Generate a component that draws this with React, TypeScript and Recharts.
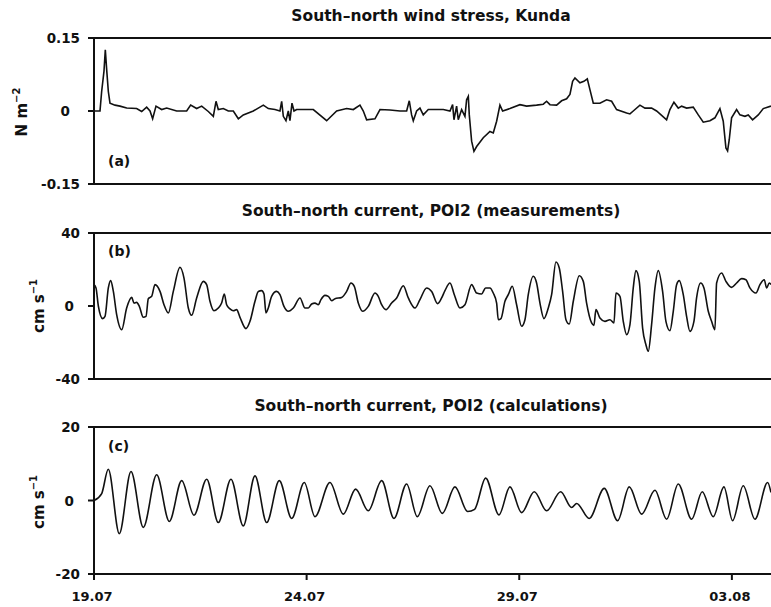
import React from 'react';
import { LineChart, Line, XAxis, YAxis } from 'recharts';

// time axis: days since 19.07 00:00
const dateTicks = [0, 5, 10, 15];
const dateLabels = ['19.07', '24.07', '29.07', '03.08'];
const dayRange = [0, 15.92];

// (a) wind stress, N m-2
const windDays = [
  0, 0.141, 0.18, 0.235, 0.266, 0.298, 0.337, 0.376, 0.494, 0.611, 0.768, 1.003, 1.121, 1.238, 1.317, 1.379,
  1.458, 1.591, 1.709, 1.944, 2.179, 2.273, 2.414, 2.532, 2.688, 2.806, 2.869, 2.923, 3.041, 3.158, 3.276, 3.394,
  3.511, 3.746, 3.982, 4.099, 4.256, 4.373, 4.413, 4.452, 4.514, 4.569, 4.608, 4.656, 4.703, 4.765, 5.157, 5.471,
  5.706, 5.941, 6.098, 6.254, 6.333, 6.411, 6.607, 6.725, 6.96, 7.195, 7.352, 7.414, 7.469, 7.508, 7.587, 7.665,
  7.743, 7.861, 8.214, 8.371, 8.433, 8.465, 8.527, 8.566, 8.645, 8.723, 8.762, 8.802, 8.825, 8.88, 8.935, 8.998,
  9.154, 9.311, 9.389, 9.468, 9.546, 9.609, 9.781, 10.016, 10.173, 10.408, 10.565, 10.643, 10.722, 10.879, 10.996, 11.114,
  11.192, 11.255, 11.31, 11.427, 11.521, 11.6, 11.662, 11.741, 11.897, 12.054, 12.172, 12.289, 12.525, 12.603, 12.681, 12.838,
  12.956, 13.112, 13.23, 13.348, 13.465, 13.543, 13.637, 13.739, 13.818, 13.935, 14.092, 14.21, 14.327, 14.484, 14.601, 14.719,
  14.797, 14.86, 14.899, 14.938, 14.993, 15.111, 15.189, 15.307, 15.385, 15.487, 15.62, 15.738, 15.919,
];
const windStress = [
  0, 0, 0.04, 0.082, 0.126, 0.085, 0.04, 0.016, 0.012, 0.01, 0.006, 0.005, -0.001, 0.008, 0, -0.016,
  0.01, 0.003, 0.006, 0, 0, 0.012, 0.005, 0.01, -0.001, -0.011, 0.02, 0.003, 0.005, 0, 0, -0.016,
  -0.008, 0, 0.012, 0.005, 0.003, 0, 0.02, -0.011, -0.02, 0, -0.02, 0.016, 0, 0.003, 0.003, -0.02,
  0, 0.005, 0.003, 0.012, 0, -0.018, -0.016, 0.003, 0.002, 0, 0, 0.021, -0.008, -0.02, 0, 0.006,
  -0.008, 0.003, 0.003, 0, 0.013, -0.018, 0.01, -0.018, 0.003, -0.011, 0.023, 0.03, -0.008, -0.062, -0.083, -0.073,
  -0.055, -0.042, -0.045, -0.021, 0.012, 0, 0.005, 0.013, 0.01, 0.012, 0.014, 0.02, 0.013, 0.012, 0.021, 0.025,
  0.034, 0.061, 0.068, 0.058, 0.061, 0.066, 0.044, 0.016, 0.016, 0.023, 0.02, 0.003, -0.004, -0.006, 0, 0.012,
  0.006, 0.006, 0, -0.009, -0.018, 0.003, 0.018, 0.006, 0.01, 0.006, 0.008, -0.008, -0.023, -0.02, -0.014, 0.005,
  -0.021, -0.076, -0.082, -0.059, -0.014, 0.003, -0.008, -0.011, -0.008, -0.018, -0.008, 0.005, 0.01,
];

// (b) measured current, cm s-1
const measDays = [
  0, 0.047, 0.102, 0.204, 0.259, 0.337, 0.392, 0.455, 0.533, 0.651, 0.768, 0.886, 0.941, 1.003, 1.066, 1.16,
  1.223, 1.277, 1.356, 1.434, 1.552, 1.646, 1.748, 1.865, 2.022, 2.116, 2.218, 2.296, 2.414, 2.571, 2.649, 2.727,
  2.821, 2.923, 3.001, 3.064, 3.119, 3.198, 3.276, 3.354, 3.433, 3.574, 3.668, 3.786, 3.864, 3.942, 3.997, 4.044,
  4.099, 4.177, 4.295, 4.373, 4.467, 4.569, 4.687, 4.844, 4.961, 5.04, 5.118, 5.196, 5.275, 5.337, 5.431, 5.51,
  5.588, 5.667, 5.823, 5.941, 6.043, 6.121, 6.215, 6.317, 6.45, 6.607, 6.685, 6.764, 6.866, 6.999, 7.117, 7.273,
  7.391, 7.548, 7.665, 7.822, 7.94, 8.081, 8.175, 8.253, 8.371, 8.473, 8.606, 8.723, 8.88, 8.998, 9.115, 9.209,
  9.311, 9.389, 9.468, 9.507, 9.57, 9.664, 9.742, 9.836, 9.938, 10.056, 10.134, 10.212, 10.33, 10.408, 10.487, 10.581,
  10.683, 10.761, 10.863, 10.941, 11.02, 11.098, 11.176, 11.271, 11.412, 11.506, 11.584, 11.702, 11.756, 11.803, 11.897, 12.015,
  12.132, 12.227, 12.274, 12.368, 12.446, 12.525, 12.603, 12.681, 12.744, 12.822, 12.901, 12.979, 13.034, 13.112, 13.191, 13.269,
  13.371, 13.449, 13.543, 13.622, 13.7, 13.763, 13.857, 13.935, 14.014, 14.108, 14.17, 14.264, 14.343, 14.445, 14.523, 14.601,
  14.641, 14.758, 14.86, 14.993, 15.111, 15.229, 15.33, 15.424, 15.566, 15.66, 15.762, 15.817, 15.88, 15.919,
];
const measCurrent = [
  11.7, 9.9, 0, -6.9, -5.7, 9.9, 13.9, 8.0, -4.7, -13.0, -1.1, 4.7, 1.6, 2.0, -0.2, -6.2,
  -5.7, 4.0, 5.3, 11.7, 8.0, 0.7, -3.8, 8.0, 21.2, 15.3, -1.1, -5.1, 4.4, 13.5, 11.7, 2.6,
  -2.6, -1.1, 1.6, 6.6, 0.7, -1.6, -2.6, -2.0, -6.2, -12.4, -8.4, 2.6, 8.0, 8.4, 6.6, -3.8,
  -1.1, 5.3, 8.0, 6.2, -0.2, -2.9, -1.1, 4.4, -1.1, -1.1, 1.1, 1.6, 0.7, 3.5, 5.8, 5.3,
  2.9, 4.0, 4.7, 8.0, 12.6, 10.8, 1.6, -2.9, -0.2, 7.1, 5.3, 0.7, -2.0, 1.6, 4.4, 11.1,
  4.4, -1.1, 3.5, 9.9, 8.0, 1.3, 4.4, 8.4, 12.6, 6.2, -1.1, 0.7, 11.7, 7.1, 6.6, 9.9,
  9.9, 7.1, 1.6, -7.5, -6.9, 2.6, 6.2, 10.8, 0.7, -11.1, -7.5, 6.2, 16.3, 12.6, 1.6, -6.9,
  -1.1, 6.2, 24.1, 20.8, 8.0, -7.5, -9.9, 2.6, 16.6, 13.5, 1.6, -9.3, -10.6, -2.0, -6.6, -8.4,
  -7.5, -9.3, 7.1, 5.3, -8.4, -15.7, -10.2, 9.9, 19.4, 13.5, -12.1, -21.2, -24.8, -10.2, 9.9, 19.4,
  8.0, -8.4, -13.5, -2.9, 11.7, 13.9, 6.2, -5.7, -13.9, -8.4, 4.4, 12.6, 9.9, -2.9, -8.4, -13.0,
  12.6, 18.1, 13.5, 10.2, 12.6, 15.0, 14.4, 9.9, 7.1, 11.7, 14.4, 9.9, 12.6, 11.7,
];

// (c) model current, cm s-1 (turning points)
const calcDays = [
  0, 0.181, 0.336, 0.595, 0.87, 1.159, 1.474, 1.771, 2.062, 2.351, 2.65, 2.923, 3.221, 3.51, 3.786, 4.061,
  4.357, 4.649, 4.945, 5.196, 5.549, 5.862, 6.153, 6.45, 6.765, 7.054, 7.352, 7.602, 7.9, 8.19, 8.488, 8.787,
  8.95, 9.21, 9.523, 9.781, 10.056, 10.353, 10.644, 10.973, 11.232, 11.35, 11.646, 11.999, 12.314, 12.587, 12.878, 13.191,
  13.466, 13.739, 14.054, 14.303, 14.562, 14.813, 15.017, 15.267, 15.542, 15.84, 15.919,
];
const calcCurrent = [
  0, 1.9, 8.5, -9.0, 7.9, -7.3, 7.0, -5.7, 5.4, -4.0, 5.8, -6.0, 5.8, -6.9, 6.7, -6.0,
  5.4, -4.9, 4.9, -4.4, 4.9, -3.7, 3.1, -2.8, 5.4, -4.9, 4.5, -4.4, 4.0, -3.5, 3.7, -3.0,
  -2.4, 6.1, -3.9, 3.7, -3.3, 2.4, -2.8, 2.4, -1.9, -0.8, -4.9, 3.3, -5.5, 3.7, -3.7, 2.8,
  -5.1, 4.5, -5.1, 2.4, -4.4, 3.7, -5.5, 4.0, -5.1, 4.9, 2.2,
];

const toRows = (days: number[], vals: number[]) => days.map((d, i) => ({ day: d, v: vals[i] }));

const FONT = "'DejaVu Sans', Verdana, sans-serif";
const INK = '#111';

function YTick(props: any) {
  const { x, y, payload, zeroShift } = props;
  const v = payload.value;
  return (
    <text
      x={v === 0 ? x - zeroShift : x}
      y={y}
      dy={5}
      textAnchor="end"
      fontFamily={FONT}
      fontWeight="bold"
      fontSize={13.5}
      fill={INK}
    >
      {v === 0 ? '0' : String(v)}
    </text>
  );
}

interface PanelProps {
  top: number;
  rows: { day: number; v: number }[];
  domain: number[];
  ticks: number[];
  zeroShift: number;
  dates?: boolean;
  curve: 'linear' | 'monotone';
}

function Panel({ top, rows, domain, ticks, zeroShift, dates, curve }: PanelProps) {
  const axisLine = { stroke: INK, strokeWidth: 2 };
  return (
    <div style={{ position: 'absolute', left: 0, top }}>
      <LineChart
        width={771}
        height={dates ? 218 : 196}
        data={rows}
        margin={{ top: 36, right: 0, bottom: dates ? 0 : 12, left: 0 }}
      >
        <XAxis
          xAxisId="top"
          orientation="top"
          type="number"
          dataKey="day"
          domain={dayRange}
          ticks={dateTicks}
          interval={0}
          height={1}
          tick={false}
          tickSize={6}
          tickLine={dates ? axisLine : false}
          axisLine={axisLine}
        />
        <XAxis
          xAxisId="bottom"
          type="number"
          dataKey="day"
          domain={dayRange}
          ticks={dateTicks}
          interval={0}
          height={dates ? 34 : 1}
          tickSize={6}
          tickMargin={12}
          tickLine={dates ? axisLine : false}
          axisLine={axisLine}
          tick={dates ? { fontFamily: FONT, fontWeight: 'bold', fontSize: 13, fill: INK, dx: -2 } : false}
          tickFormatter={(v: number) => dateLabels[dateTicks.indexOf(v)] ?? ''}
        />
        <YAxis
          type="number"
          domain={domain}
          ticks={ticks}
          interval={0}
          width={94}
          tickSize={6}
          tickMargin={8}
          tickLine={axisLine}
          axisLine={axisLine}
          tick={(p: any) => <YTick {...p} zeroShift={zeroShift} />}
        />
        <Line
          xAxisId="bottom"
          dataKey="v"
          type={curve}
          stroke={INK}
          strokeWidth={1.6}
          dot={false}
          isAnimationActive={false}
        />
      </LineChart>
    </div>
  );
}

const titleStyle = { fontFamily: FONT, fontWeight: 'bold' as const, fontSize: 15.5, fill: INK };
const tagStyle = { fontFamily: FONT, fontWeight: 'bold' as const, fontSize: 14, fill: INK };

function Unit({ x, y, main, sup }: { x: number; y: number; main: string; sup: string }) {
  return (
    <text
      x={x}
      y={y}
      transform={`rotate(-90, ${x}, ${y})`}
      textAnchor="middle"
      fontFamily={FONT}
      fontWeight="bold"
      fontSize={15}
      fill={INK}
    >
      {main}
      <tspan dy={-7} fontSize={10}>{sup}</tspan>
    </text>
  );
}

export default function App() {
  return (
    <div style={{ position: 'absolute', left: 0, top: 0, width: 771, height: 607, background: '#fff', overflow: 'hidden' }}>
      <Panel top={1} rows={toRows(windDays, windStress)} domain={[-0.15, 0.15]} ticks={[-0.15, 0, 0.15]} zeroShift={10} curve="linear" />
      <Panel top={196} rows={toRows(measDays, measCurrent)} domain={[-40, 40]} ticks={[-40, 0, 40]} zeroShift={6} curve="monotone" />
      <Panel top={390} rows={toRows(calcDays, calcCurrent)} domain={[-20, 20]} ticks={[-20, 0, 20]} zeroShift={6} dates curve="monotone" />
      <svg width={771} height={607} style={{ position: 'absolute', left: 0, top: 0, pointerEvents: 'none' }}>
        <text x={431} y={21} textAnchor="middle" {...titleStyle}>South–north wind stress, Kunda</text>
        <text x={431} y={216} textAnchor="middle" {...titleStyle}>South–north current, POI2 (measurements)</text>
        <text x={431} y={411} textAnchor="middle" {...titleStyle}>South–north current, POI2 (calculations)</text>
        <text x={108} y={166} {...tagStyle}>(a)</text>
        <text x={108} y={256} {...tagStyle}>(b)</text>
        <text x={108} y={451} {...tagStyle}>(c)</text>
        <Unit x={27} y={112} main="N m" sup="−2" />
        <Unit x={44} y={306} main="cm s" sup="−1" />
        <Unit x={44} y={502} main="cm s" sup="−1" />
      </svg>
    </div>
  );
}
